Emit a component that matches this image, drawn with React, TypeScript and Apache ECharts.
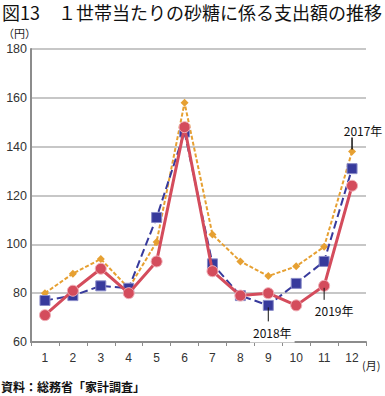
import React, { useEffect, useRef } from "react";
import * as echarts from "echarts";

const months = ["1", "2", "3", "4", "5", "6", "7", "8", "9", "10", "11", "12"];
const y2017 = [80, 88, 94, 82, 101, 158, 104, 93, 87, 91, 99, 138];
const y2018 = [77, 79, 83, 82, 111, 146, 92, 79, 75, 84, 93, 131];
const y2019 = [71, 81, 90, 80, 93, 148, 89, 79, 80, 75, 83, 124];
const yTicks = [60, 80, 100, 120, 140, 160, 180];

const RED = "#d44c5c";
const BLUE = "#373a9c";
const ORANGE = "#e6a032";
const JP = "'Noto Sans CJK JP', sans-serif";
const NUM = "'Liberation Sans', Arial, sans-serif";

export default function App() {
  const ref = useRef<HTMLDivElement>(null);
  useEffect(() => {
    const chart = echarts.init(ref.current!, null, { renderer: "svg" });
    chart.setOption({
      animation: false,
      backgroundColor: "#fff",
      grid: { left: 31, right: 19, top: 49, bottom: 54 },
      xAxis: {
        type: "category",
        data: months,
        boundaryGap: true,
        axisLine: { lineStyle: { color: "#8c8c8c", width: 2 } },
        axisTick: { show: true, length: 4, lineStyle: { color: "#8c8c8c" } },
        axisLabel: { color: "#333", fontFamily: NUM, fontSize: 12, margin: 10 },
      },
      yAxis: {
        type: "value",
        min: yTicks[0],
        max: yTicks[yTicks.length - 1],
        interval: 20,
        axisLine: { show: true, lineStyle: { color: "#8c8c8c", width: 2 } },
        axisTick: { show: false },
        splitLine: { lineStyle: { color: "#b4b4b4", width: 1.5 } },
        axisLabel: { color: "#333", fontFamily: NUM, fontSize: 12.5, margin: 4 },
      },
      series: [
        {
          name: "2017年",
          type: "line",
          data: y2017,
          symbol: "diamond",
          symbolSize: 8,
          itemStyle: { color: ORANGE },
          lineStyle: { color: ORANGE, width: 2, type: [4, 2] },
          z: 2,
        },
        {
          name: "2018年",
          type: "line",
          data: y2018,
          symbol: "rect",
          symbolSize: 10,
          itemStyle: { color: BLUE, borderColor: "#8a8cc8", borderWidth: 1 },
          lineStyle: { color: BLUE, width: 2, type: [8, 4] },
          z: 3,
        },
        {
          name: "2019年",
          type: "line",
          data: y2019,
          symbol: "circle",
          symbolSize: 11,
          itemStyle: { color: RED, borderColor: "#f0b0b8", borderWidth: 1 },
          lineStyle: { color: RED, width: 3 },
          z: 4,
        },
      ],
    });

    const p17 = chart.convertToPixel({ gridIndex: 0 }, [11, y2017[11]]) as number[];
    const p18 = chart.convertToPixel({ gridIndex: 0 }, [8, y2018[8]]) as number[];
    const p19 = chart.convertToPixel({ gridIndex: 0 }, [10, y2019[10]]) as number[];

    chart.setOption({
      graphic: [
        {
          type: "text",
          left: 2,
          top: 3,
          style: { text: "図13　１世帯当たりの砂糖に係る支出額の推移", font: `18px ${JP}`, fill: "#111" },
        },
        {
          type: "text",
          left: 3,
          top: 27,
          style: { text: "（円）", font: `11px ${JP}`, fill: "#222" },
        },
        {
          type: "text",
          left: 362,
          top: 359,
          style: { text: "(月)", font: `11px ${JP}`, fill: "#222" },
        },
        {
          type: "text",
          left: 1,
          top: 380,
          style: { text: "資料：総務省「家計調査」", font: `bold 12px ${JP}`, fill: "#111" },
        },
        {
          type: "line",
          shape: { x1: p17[0], y1: p17[1] - 2, x2: p17[0], y2: p17[1] - 14 },
          style: { stroke: "#111", lineWidth: 1.5 },
          z: 10,
        },
        {
          type: "text",
          x: p17[0] + 11,
          y: p17[1] - 21,
          style: { text: "2017年", font: `12px ${JP}`, fill: "#111", align: "center", verticalAlign: "middle" },
          z: 10,
        },
        {
          type: "line",
          shape: { x1: p18[0], y1: p18[1] + 2, x2: p18[0], y2: p18[1] + 16 },
          style: { stroke: "#111", lineWidth: 1 },
          z: 10,
        },
        {
          type: "text",
          x: p18[0] + 4,
          y: p18[1] + 27,
          style: {
            text: "2018年",
            font: `12px ${JP}`,
            fill: "#111",
            align: "center",
            verticalAlign: "middle",
            backgroundColor: "#fff",
            padding: [2, 3, 6, 3],
          },
          z: 10,
        },
        {
          type: "line",
          shape: { x1: p19[0], y1: p19[1] + 2, x2: p19[0], y2: p19[1] + 14 },
          style: { stroke: "#111", lineWidth: 1 },
          z: 10,
        },
        {
          type: "text",
          x: p19[0] + 10,
          y: p19[1] + 25,
          style: { text: "2019年", font: `12px ${JP}`, fill: "#111", align: "center", verticalAlign: "middle" },
          z: 10,
        },
      ],
    });
    return () => chart.dispose();
  }, []);
  return (
    <div
      ref={ref}
      style={{ position: "fixed", left: 0, top: 0, width: 385, height: 396 }}
    />
  );
}
